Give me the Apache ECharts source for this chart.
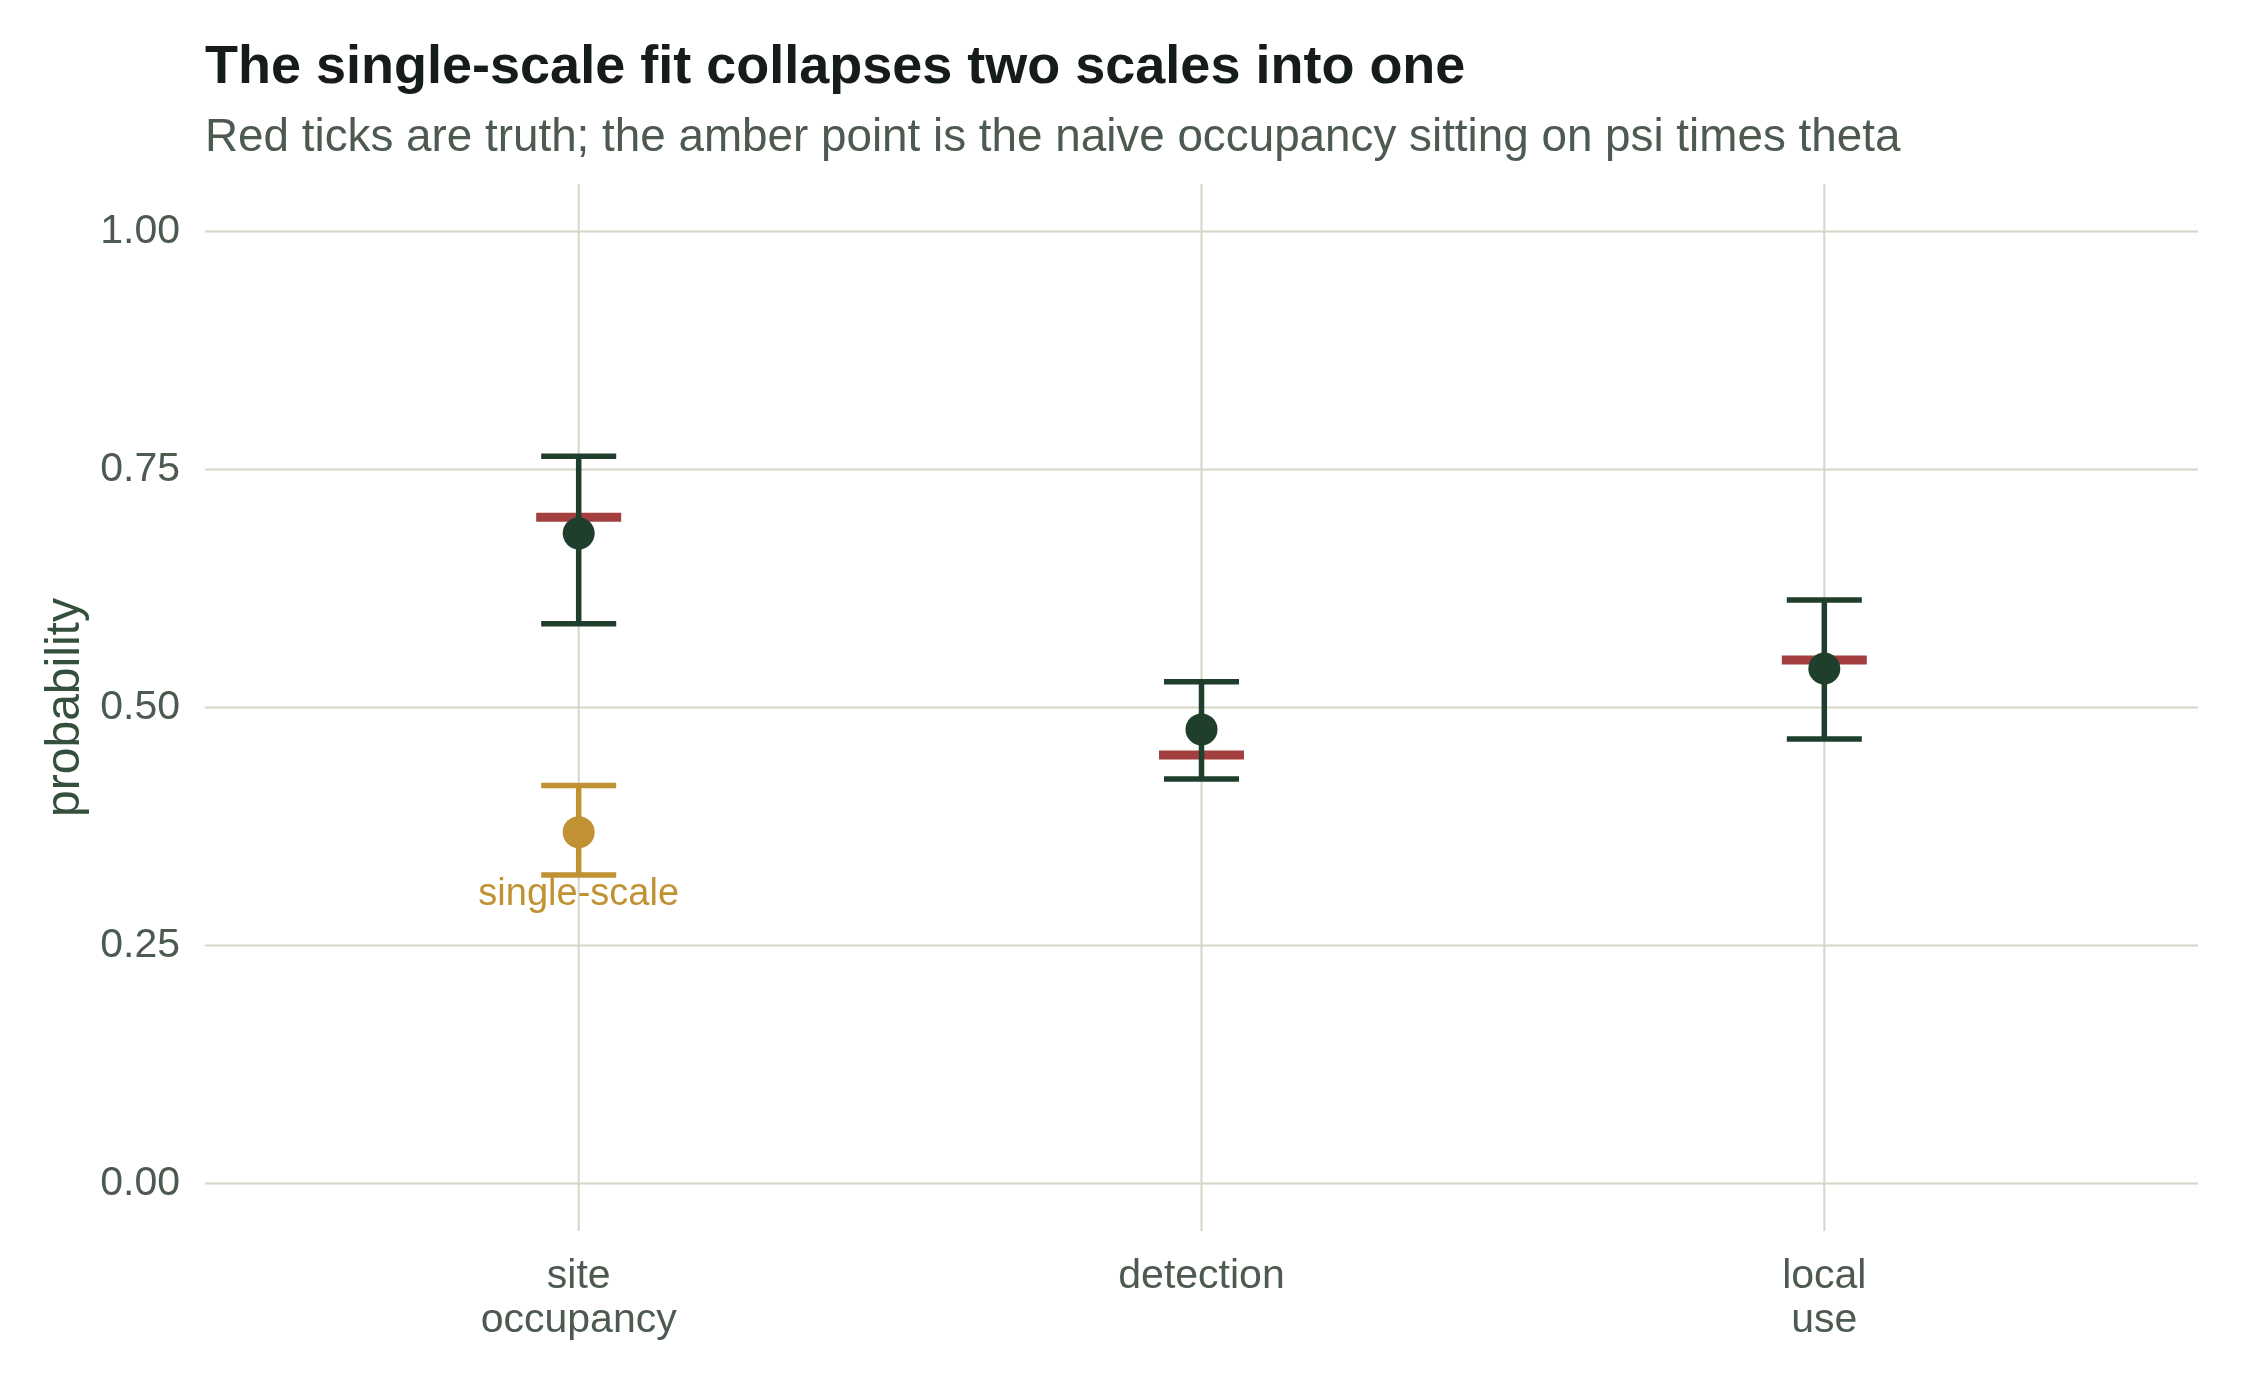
<!DOCTYPE html>
<html>
<head>
<meta charset="utf-8">
<script src="https://cdn.jsdelivr.net/npm/echarts@6/dist/echarts.min.js"></script>
<style>
  html, body { margin: 0; padding: 0; background: #ffffff; }
  #chart { width: 2250px; height: 1380px; }
</style>
</head>
<body>
<div id="chart"></div>
<script>
// ---- data ----
const categories = ['site\noccupancy', 'detection', 'local\nuse'];
const categoryPos = [1, 2, 3];
const estimate = [0.683, 0.477, 0.541];
const lower = [0.588, 0.425, 0.467];
const upper = [0.764, 0.527, 0.613];
const truth = [0.70, 0.45, 0.55];
const naivePos = [1];
const naiveEstimate = [0.369];
const naiveLower = [0.324];
const naiveUpper = [0.418];
const naiveLabel = 'single-scale';
const yTicks = [0, 0.25, 0.5, 0.75, 1.0];

const titleText = 'The single-scale fit collapses two scales into one';
const subtitleText = 'Red ticks are truth; the amber point is the naive occupancy sitting on psi times theta';
const yName = 'probability';

// ---- styles ----
const FONT = '"Liberation Sans", Arial, Helvetica, sans-serif';
const GREEN = '#1f3f2c';
const RED = '#a33f3f';
const AMBER = '#c09233';
const GRID = '#d5d6c7';
const TEXT = '#4c5a50';

const chart = echarts.init(document.getElementById('chart'), null, { renderer: 'canvas' });

function errorbarRender(color) {
  return function (params, api) {
    const x = api.value(0), lo = api.value(1), hi = api.value(2);
    const pLo = api.coord([x, lo]);
    const pHi = api.coord([x, hi]);
    const hw = 37.5;
    const st = { stroke: color, lineWidth: 5.5 };
    return {
      type: 'group',
      children: [
        { type: 'line', shape: { x1: pLo[0], y1: pLo[1], x2: pHi[0], y2: pHi[1] }, style: st },
        { type: 'line', shape: { x1: pLo[0] - hw, y1: pLo[1], x2: pLo[0] + hw, y2: pLo[1] }, style: st },
        { type: 'line', shape: { x1: pHi[0] - hw, y1: pHi[1], x2: pHi[0] + hw, y2: pHi[1] }, style: st }
      ]
    };
  };
}

const option = {
  backgroundColor: '#ffffff',
  animation: false,
  title: [
    {
      text: titleText, left: 205, top: 41, padding: 0,
      textStyle: { fontFamily: FONT, fontSize: 54, fontWeight: 'bold', color: '#161c18' }
    },
    {
      text: subtitleText, left: 205, top: 115, padding: 0,
      textStyle: { fontFamily: FONT, fontSize: 45.8, fontWeight: 'normal', color: TEXT }
    }
  ],
  grid: { left: 205, right: 52, top: 184, bottom: 149, containLabel: false },
  xAxis: {
    type: 'value', min: 0.4, max: 3.6, interval: 0.2,
    axisLine: { show: false }, axisTick: { show: false }, splitLine: { show: false },
    axisLabel: {
      margin: 24, fontFamily: FONT, fontSize: 41, color: TEXT, lineHeight: 44, align: 'center',
      formatter: function (v) {
        const r = Math.round(v);
        if (Math.abs(v - r) < 1e-6) {
          const i = categoryPos.indexOf(r);
          return i >= 0 ? categories[i] : '';
        }
        return '';
      }
    }
  },
  yAxis: {
    type: 'value', min: -0.05, max: 1.05, interval: 0.05,
    name: yName, nameLocation: 'middle', nameGap: 114, nameRotate: 90,
    nameTextStyle: { fontFamily: FONT, fontSize: 48, color: '#34503d' },
    axisLine: { show: false }, axisTick: { show: false }, splitLine: { show: false },
    axisLabel: {
      margin: 25, fontFamily: FONT, fontSize: 41, color: TEXT,
      formatter: function (v) {
        for (const t of yTicks) { if (Math.abs(v - t) < 1e-6) return t.toFixed(2); }
        return '';
      }
    }
  },
  series: [
    {
      name: 'gridH', type: 'custom', silent: true, z: 1,
      data: yTicks.map(t => [0.4, t]),
      renderItem: function (params, api) {
        const cs = params.coordSys;
        const y = api.coord([1, api.value(1)])[1];
        return { type: 'line', shape: { x1: cs.x, y1: y, x2: cs.x + cs.width, y2: y }, style: { stroke: GRID, lineWidth: 2 } };
      }
    },
    {
      name: 'gridV', type: 'custom', silent: true, z: 1,
      data: categoryPos.map(p => [p, 0]),
      renderItem: function (params, api) {
        const cs = params.coordSys;
        const x = api.coord([api.value(0), 0])[0];
        return { type: 'line', shape: { x1: x, y1: cs.y, x2: x, y2: cs.y + cs.height }, style: { stroke: GRID, lineWidth: 2 } };
      }
    },
    {
      name: 'truth', type: 'custom', z: 3,
      data: categoryPos.map((p, i) => [p, truth[i]]),
      renderItem: function (params, api) {
        const c = api.coord([api.value(0), api.value(1)]);
        const hw = 42.5;
        return { type: 'line', shape: { x1: c[0] - hw, y1: c[1], x2: c[0] + hw, y2: c[1] }, style: { stroke: RED, lineWidth: 9 } };
      }
    },
    {
      name: 'interval', type: 'custom', z: 4,
      data: categoryPos.map((p, i) => [p, lower[i], upper[i]]),
      encode: { x: 0, y: [1, 2] },
      renderItem: errorbarRender(GREEN)
    },
    {
      name: 'naiveInterval', type: 'custom', z: 4,
      data: naivePos.map((p, i) => [p, naiveLower[i], naiveUpper[i]]),
      encode: { x: 0, y: [1, 2] },
      renderItem: errorbarRender(AMBER)
    },
    {
      name: 'estimate', type: 'scatter', z: 5,
      symbol: 'circle', symbolSize: 32,
      itemStyle: { color: GREEN, opacity: 1 },
      data: categoryPos.map((p, i) => [p, estimate[i]])
    },
    {
      name: 'naive', type: 'scatter', z: 5,
      symbol: 'circle', symbolSize: 32,
      itemStyle: { color: AMBER, opacity: 1 },
      label: {
        show: true, position: 'bottom', distance: 27,
        formatter: naiveLabel, fontFamily: FONT, fontSize: 38, color: AMBER
      },
      data: naivePos.map((p, i) => [p, naiveEstimate[i]])
    }
  ]
};
chart.setOption(option);
</script>
</body>
</html>
